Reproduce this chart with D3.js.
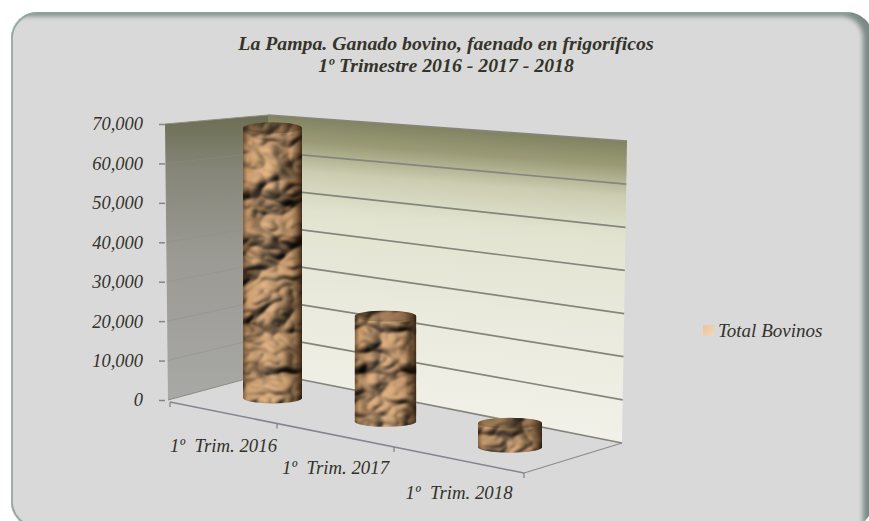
<!DOCTYPE html>
<html>
  <head>
    <meta charset="utf-8">
    <title>Ganado bovino</title>
    <script src="https://d3js.org/d3.v7.min.js"></script>
    <style>
      html, body { margin: 0; padding: 0; background: white; overflow: hidden; }
      svg { display: block; }
      text { font-family: "Liberation Serif", serif; font-style: italic; fill: #33322c; }
      .tick text { font-size: 18.5px; }
      .title { font-size: 19.8px; font-weight: bold; fill: #35342a; }
    </style>
  </head>
  <body>
    <script>
      const titleLines = ['La Pampa. Ganado bovino, faenado en frigoríficos', '1º Trimestre 2016 - 2017 - 2018'];
      const categories = ['1º  Trim. 2016', '1º  Trim. 2017', '1º  Trim. 2018'];
      const values = [69000, 25500, 5500];
      const yTicks = [0, 10000, 20000, 30000, 40000, 50000, 60000, 70000];
      const legendLabel = 'Total Bovinos';

      const w = 869;
      const h = 521;
      const yMax = 70000;

      // the 3d box: one value scale for each vertical edge
      const yFront = d3.scaleLinear().domain([0, yMax]).range([400, 124]);
      const yBackL = d3.scaleLinear().domain([0, yMax]).range([373, 115]);
      const yBackR = d3.scaleLinear().domain([0, yMax]).range([443, 141]);
      const xLeft = d3.scaleLinear().domain([0, yMax]).range([168, 165]);
      const xRight = d3.scaleLinear().domain([0, yMax]).range([622, 627]);
      const xCat = d3.scaleLinear().domain([0, 1, 2, 3]).range([170, 277, 394, 524]); // perspective
      const yEdge = d3.scaleLinear().domain([170, 524]).range([402, 473]);
      const backHeight = d3.scaleLinear().domain([268, 622]).range([258, 302]);
      const colWidth = d3.scaleLinear().domain([0, 2]).range([59, 64]);
      const depthX = 98;
      const depthY = -29.5;
      const backX = 268;

      const line = d3.line();
      const svg = d3.select('body').append('svg').attr('width', w).attr('height', h);
      const defs = svg.append('defs');

      function gradient(id, stops, attrs) {
        const g = defs.append('linearGradient').attr('id', id);
        Object.entries(attrs).forEach(([k, v]) => g.attr(k, v));
        stops.forEach(s => g.append('stop').attr('offset', s[0]).attr('stop-color', s[1]).attr('stop-opacity', s[2] === undefined ? 1 : s[2]));
      }

      gradient('backWall', [[0, '#7c7d5c'], [0.09, '#9a9b76'], [0.18, '#cbccb0'], [0.3, '#e2e3cf'], [0.55, '#e9e9dc'], [1, '#f3f3ec']],
        {gradientUnits: 'userSpaceOnUse', x1: 305, x2: 280, y1: 112, y2: 440});
      gradient('leftWall', [[0, '#6c6d52'], [0.2, '#86877a'], [0.5, '#9b9a94'], [1, '#a8a8a6']],
        {gradientUnits: 'userSpaceOnUse', x1: 0, x2: 0, y1: 115, y2: 400});
      gradient('cylinder', [[0, '#2a1a0c', 0.5], [0.08, '#2a1a0c', 0.12], [0.4, '#ffffff', 0.06], [0.82, '#2a1a0c', 0.12], [1, '#1c1006', 0.8]],
        {x1: 0, x2: 1, y1: 0, y2: 0});
      gradient('swatch', [[0, '#e9c49a'], [1, '#f0d9bd']], {x1: 0, x2: 1, y1: 0, y2: 1});

      // rounded frame with inner shadow on top and right
      const soft = defs.append('filter').attr('id', 'soft').attr('x', '-5%').attr('y', '-5%').attr('width', '110%').attr('height', '110%');
      soft.append('feGaussianBlur').attr('stdDeviation', 2.5);
      defs.append('clipPath').attr('id', 'frameClip')
        .append('rect').attr('x', 11).attr('y', 12).attr('width', 862).attr('height', 516).attr('rx', 26);

      const frame = svg.append('g').attr('clip-path', 'url(#frameClip)');
      frame.append('rect').attr('x', 11).attr('y', 12).attr('width', 862).attr('height', 516).attr('fill', '#7c8a86');
      frame.append('rect').attr('x', 5).attr('y', 16).attr('width', 858).attr('height', 530).attr('rx', 22)
        .attr('fill', '#d9d9d9').attr('filter', 'url(#soft)');
      frame.append('rect').attr('x', 13).attr('y', 30).attr('width', 600).attr('height', 500).attr('fill', '#d9d9d9');
      svg.append('path')
        .attr('d', 'M 12 500 L 12 38 A 26 26 0 0 1 38 13 L 850 13')
        .attr('fill', 'none').attr('stroke', '#8fa6a0').attr('stroke-width', 1.6);
      svg.append('path')
        .attr('d', 'M 12 500 A 26 26 0 0 0 38 527')
        .attr('fill', 'none').attr('stroke', '#8fa6a0').attr('stroke-width', 1.6);

      // title
      svg.selectAll('.title').data(titleLines).enter().append('text')
        .attr('class', 'title')
        .attr('x', 446)
        .attr('y', (d, i) => 50 + i * 21.5)
        .attr('text-anchor', 'middle')
        .text(d => d);

      // walls
      svg.append('path')
        .attr('d', line([[xLeft(0), yFront(0)], [xLeft(yMax), yFront(yMax)], [backX, yBackL(yMax)], [backX, yBackL(0)]]) + 'Z')
        .attr('fill', 'url(#leftWall)');
      svg.append('path')
        .attr('d', line([[backX, yBackL(0)], [backX, yBackL(yMax)], [xRight(yMax), yBackR(yMax)], [xRight(0), yBackR(0)]]) + 'Z')
        .attr('fill', 'url(#backWall)');

      // gridlines on both walls
      const grid = svg.append('g').attr('fill', 'none');
      grid.selectAll('.gridBack').data(yTicks).enter().append('path')
        .attr('d', d => line([[backX, yBackL(d)], [xRight(d), yBackR(d)]]))
        .attr('stroke', '#85857c').attr('stroke-width', 1.7);
      grid.selectAll('.gridLeft').data(yTicks).enter().append('path')
        .attr('d', d => line([[xLeft(d), yFront(d)], [backX, yBackL(d)]]))
        .attr('stroke', d => d === 0 ? '#8d8d88' : '#8f8f84').attr('stroke-width', 1.1).attr('stroke-opacity', d => d === 0 || d === yMax ? 1 : 0.4);

      // floor edges
      const xEnd = xCat(3);
      svg.append('path')
        .attr('d', line([[xEnd, yEdge(xEnd)], [xRight(0), yBackR(0)]]))
        .attr('fill', 'none').attr('stroke', '#8b8b8b').attr('stroke-width', 1.2);

      // value axis
      const yAxis = d3.axisLeft(yFront)
        .tickValues(yTicks)
        .tickFormat(d3.format(','))
        .tickSize(6)
        .tickPadding(16);
      const yAxisG = svg.append('g').attr('transform', 'translate(165, 0)').call(yAxis);
      yAxisG.select('.domain').remove();
      yAxisG.selectAll('.tick line').attr('stroke', '#85858a').attr('stroke-width', 1.5);
      yAxisG.selectAll('.tick text').attr('font-family', null).attr('dy', '0.32em');

      // category axis, sloped so it can't use axisBottom
      svg.append('path')
        .attr('d', line([[xCat(0), yEdge(xCat(0))], [xEnd, yEdge(xEnd)]]))
        .attr('fill', 'none').attr('stroke', '#85858f').attr('stroke-width', 1.6);
      svg.selectAll('.catTick').data(d3.range(4)).enter().append('path')
        .attr('d', d => line([[xCat(d), yEdge(xCat(d))], [xCat(d), yEdge(xCat(d)) + 5]]))
        .attr('stroke', '#85858a').attr('stroke-width', 1.3);
      svg.selectAll('.catLabel').data(categories).enter().append('text')
        .attr('class', 'catLabel')
        .attr('x', (d, i) => xCat(i + 0.5))
        .attr('y', (d, i) => yEdge(xCat(i + 0.5)) + 39)
        .attr('text-anchor', 'middle')
        .attr('font-size', 18.8)
        .style('white-space', 'pre')
        .text(d => d);

      // crumpled paper texture, one filter per column
      const seeds = [7, 23, 41];
      seeds.forEach((seed, i) => {
        const f = defs.append('filter').attr('id', 'paper' + i)
          .attr('x', 0).attr('y', 0).attr('width', '100%').attr('height', '100%')
          .attr('color-interpolation-filters', 'sRGB');
        f.append('feTurbulence').attr('type', 'turbulence').attr('baseFrequency', '0.017 0.024')
          .attr('numOctaves', 3).attr('seed', seed).attr('result', 'noise');
        f.append('feDiffuseLighting').attr('in', 'noise').attr('surfaceScale', 13).attr('diffuseConstant', 1.1)
          .attr('lighting-color', '#d0a273')
          .append('feDistantLight').attr('azimuth', 225).attr('elevation', 52);
        f.append('feGaussianBlur').attr('stdDeviation', 0.9);
      });

      // columns
      const columns = svg.selectAll('.column').data(values).enter().append('g').attr('class', 'column');
      columns.each(function(d, i) {
        const cx = xCat(i + 0.5) + depthX / 2 + i;
        const baseY = yEdge(xCat(i + 0.5)) + depthY / 2 + i;
        const height = d * backHeight(cx) * 1.06 / yMax;
        const topY = baseY - height;
        const r = colWidth(i) / 2;
        const ry = 5.5;
        const shape = `M ${cx - r} ${topY} A ${r} ${ry} 0 0 1 ${cx + r} ${topY} L ${cx + r} ${baseY} A ${r} ${ry} 0 0 1 ${cx - r} ${baseY} Z`;
        const g = d3.select(this);
        g.append('clipPath').attr('id', 'col' + i).append('path').attr('d', shape);
        const inner = g.append('g').attr('clip-path', `url(#col${i})`);
        inner.append('rect')
          .attr('x', cx - r - 2).attr('y', topY - ry - 2)
          .attr('width', 2 * r + 4).attr('height', height + 2 * ry + 4)
          .attr('filter', `url(#paper${i})`);
        inner.append('rect')
          .attr('x', cx - r).attr('y', topY - ry - 2)
          .attr('width', 2 * r).attr('height', height + 2 * ry + 4)
          .attr('fill', 'url(#cylinder)');
        inner.append('ellipse')
          .attr('cx', cx).attr('cy', topY).attr('rx', r).attr('ry', ry)
          .attr('fill', '#3a2814').attr('fill-opacity', 0.35);
      });

      // legend
      svg.append('rect').attr('x', 703).attr('y', 325).attr('width', 11).attr('height', 11).attr('fill', 'url(#swatch)');
      svg.append('text').attr('x', 718).attr('y', 337).attr('font-size', 19).text(legendLabel);
    </script>
  </body>
</html>
